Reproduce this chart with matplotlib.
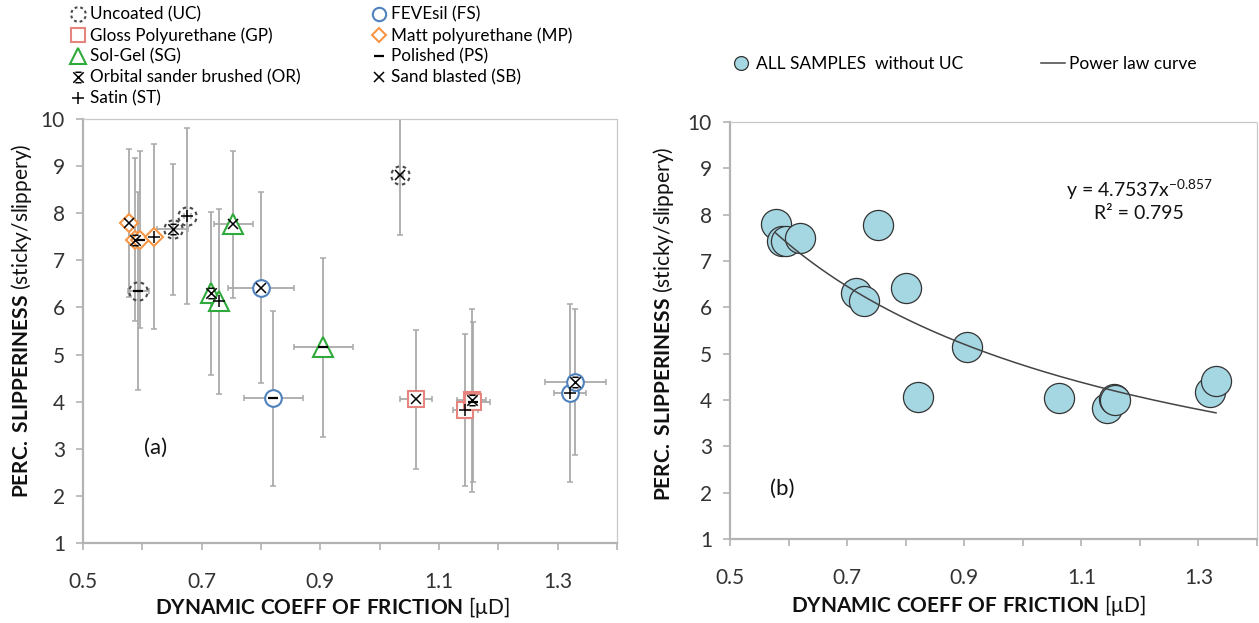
import numpy as np
import matplotlib
matplotlib.use("Agg")
import matplotlib.pyplot as plt
from matplotlib.path import Path
from matplotlib.lines import Line2D

plt.rcParams['font.family'] = ['Lato', 'DejaVu Sans']
plt.rcParams['mathtext.fontset'] = 'custom'
plt.rcParams['mathtext.rm'] = 'Lato'
plt.rcParams['mathtext.bf'] = 'Lato:bold'
plt.rcParams['mathtext.it'] = 'Lato:italic'

# ---------------- data ----------------
coating = ['UC', 'UC', 'UC', 'UC',
           'MP', 'MP', 'MP', 'MP',
           'SG', 'SG', 'SG', 'SG',
           'FS', 'FS', 'FS', 'FS',
           'GP', 'GP', 'GP', 'GP']
finish = ['PS', 'OR', 'ST', 'SB',
          'SB', 'OR', 'PS', 'ST',
          'OR', 'ST', 'SB', 'PS',
          'SB', 'PS', 'ST', 'OR',
          'SB', 'ST', 'OR', 'PS']
cof = [0.593, 0.651, 0.676, 1.035,
       0.578, 0.588, 0.596, 0.619,
       0.715, 0.729, 0.753, 0.905,
       0.800, 0.821, 1.320, 1.330,
       1.062, 1.144, 1.155, 1.158]
slip = [6.35, 7.66, 7.94, 8.82,
        7.79, 7.44, 7.44, 7.50,
        6.30, 6.13, 7.77, 5.15,
        6.42, 4.07, 4.18, 4.41,
        4.05, 3.83, 4.03, 4.00]
cof_err = [0.018, 0.026, 0.006, 0.004,
           0.004, 0.004, 0.004, 0.006,
           0.004, 0.004, 0.033, 0.050,
           0.056, 0.050, 0.027, 0.052,
           0.027, 0.021, 0.025, 0.028]
slip_err = [2.11, 1.39, 1.86, 1.28,
            1.57, 1.73, 1.88, 1.96,
            1.73, 1.97, 1.56, 1.91,
            2.02, 1.86, 1.89, 1.55,
            1.48, 1.61, 1.94, 1.70]

coating_labels = {'UC': 'Uncoated (UC)', 'FS': 'FEVEsil (FS)',
                  'GP': 'Gloss Polyurethane (GP)', 'MP': 'Matt polyurethane (MP)',
                  'SG': 'Sol-Gel (SG)'}
finish_labels = {'PS': 'Polished (PS)', 'OR': 'Orbital sander brushed (OR)',
                 'SB': 'Sand blasted (SB)', 'ST': 'Satin (ST)'}
fit_a, fit_b, fit_r2 = 4.7537, -0.857, 0.795
xticks = [0.5, 0.6, 0.7, 0.8, 0.9, 1.0, 1.1, 1.2, 1.3, 1.4]
yticks = [1, 2, 3, 4, 5, 6, 7, 8, 9, 10]

# ---------------- custom markers ----------------
M, L = Path.MOVETO, Path.LINETO
or_verts = [(-1, -1), (1, 1), (-1, 1), (1, -1), (-0.6, 1), (0.6, 1), (-0.6, -1), (0.6, -1)]
or_marker = Path(or_verts, [M, L, M, L, M, L, M, L])

dv, dc = [], []
for k in range(8):
    t0 = k * 2 * np.pi / 8 + 0.15
    ts = np.linspace(t0, t0 + 0.5 * 2 * np.pi / 8, 5)
    for i, t in enumerate(ts):
        dv.append((np.cos(t), np.sin(t)))
        dc.append(M if i == 0 else L)
dash_circle = Path(dv, dc)

outer_style = {
    'UC': dict(marker=dash_circle, ms=13, mec='#4a4a4a', mfc='none', mew=1.5),
    'FS': dict(marker='o', ms=12, mec='#4f81bd', mfc='white', mew=1.5),
    'GP': dict(marker='s', ms=12, mec='#e6857f', mfc='white', mew=1.5),
    'MP': dict(marker='D', ms=9.5, mec='#f79646', mfc='white', mew=1.5),
    'SG': dict(marker='^', ms=14, mec='#2eaa3a', mfc='white', mew=1.5),
}
inner_style = {
    'PS': dict(marker='_', ms=7, mec='black', mew=1.6),
    'OR': dict(marker=or_marker, ms=7.5, mec='black', mfc='none', mew=1.1),
    'SB': dict(marker='x', ms=7, mec='black', mew=1.1),
    'ST': dict(marker='+', ms=8, mec='black', mew=1.1),
}

W, H = 1259, 623
fig = plt.figure(figsize=(W / 100, H / 100), dpi=100)


def px(x0, y0, x1, y1):
    return [x0 / W, 1 - y1 / H, (x1 - x0) / W, (y1 - y0) / H]


axA = fig.add_axes(px(83, 119, 617, 543))
axB = fig.add_axes(px(730, 122, 1257, 539))

grey = '#b3b3b3'
for ax in (axA, axB):
    ax.set_xlim(0.5, 1.4)
    ax.set_ylim(1, 10)
    ax.set_xticks(xticks)
    ax.set_xticklabels([('%.1f' % t) if i % 2 == 0 and t < 1.35 else '' for i, t in enumerate(xticks)])
    ax.set_yticks(yticks)
    ax.set_yticklabels([str(t) for t in yticks])
    for s in ('top', 'right'):
        ax.spines[s].set_linestyle((0, (1, 1)))
        ax.spines[s].set_color('#c8c8c8')
        ax.spines[s].set_linewidth(0.9)
    for s in ('left', 'bottom'):
        ax.spines[s].set_color(grey)
        ax.spines[s].set_linewidth(1.6)
    ax.tick_params(axis='both', colors=grey, labelcolor='#333333', labelsize=15,
                   length=5, width=1.2)
    ax.tick_params(axis='x', pad=16)
    ax.tick_params(axis='y', pad=8)

# ---------------- panel (a) ----------------
for i in range(len(cof)):
    axA.errorbar(cof[i], slip[i], xerr=cof_err[i], yerr=slip_err[i], fmt='none',
                 ecolor='#aaaaaa', elinewidth=1.3, capsize=2.5, capthick=1.1, zorder=2,
                 clip_on=True)
for i in range(len(cof)):
    axA.plot(cof[i], slip[i], linestyle='none', zorder=3, **outer_style[coating[i]])
for i in range(len(cof)):
    axA.plot(cof[i], slip[i], linestyle='none', zorder=4, **inner_style[finish[i]])

axA.text(0.115, 0.225, '(a)', transform=axA.transAxes, fontsize=16, color='#111111',
         ha='left', va='center')

# legend (a)
handles, labels = [], []
order = [('c', 'UC'), ('c', 'GP'), ('c', 'SG'), ('f', 'OR'), ('f', 'ST'),
         ('c', 'FS'), ('c', 'MP'), ('f', 'PS'), ('f', 'SB')]
for kind, key in order:
    if kind == 'c':
        st = dict(outer_style[key])
        labels.append(coating_labels[key])
        st['ms'] = st['ms'] * 0.8
    else:
        st = dict(inner_style[key])
        labels.append(finish_labels[key])
    handles.append(Line2D([], [], linestyle='none', **st))
fig.legend(handles, labels, ncol=2, loc='upper left', bbox_to_anchor=(68 / W, 1 - 3 / H),
           frameon=False, fontsize=12.3, handlelength=0.8, handletextpad=0.3,
           columnspacing=4.2, labelspacing=0.28, borderpad=0.2, borderaxespad=0)

# ---------------- panel (b) ----------------
bx = [cof[i] for i in range(len(cof)) if coating[i] != 'UC']
by = [slip[i] for i in range(len(cof)) if coating[i] != 'UC']
sc = axB.scatter(bx, by, s=470, c='#a5d7e3', edgecolors='#333333', linewidths=0.9, zorder=3)
xf = np.linspace(min(bx), max(bx), 200)
ln, = axB.plot(xf, fit_a * xf ** fit_b, color='#444444', lw=1.1, zorder=4)

axB.text(0.776, 0.837, 'y = %.4fx$^{%.3f}$' % (fit_a, fit_b), transform=axB.transAxes,
         fontsize=14, ha='center', va='center', color='#111111')
axB.text(0.776, 0.78, 'R² = %.3f' % fit_r2, transform=axB.transAxes,
         fontsize=14, ha='center', va='center', color='#111111')
axB.text(0.075, 0.12, '(b)', transform=axB.transAxes, fontsize=16, color='#111111',
         ha='left', va='center')

fig.legend([Line2D([], [], linestyle='none', marker='o', ms=10, mfc='#a5d7e3', mec='#333333', mew=0.9)],
           ['ALL SAMPLES  without UC'], loc='center left',
           bbox_to_anchor=(733 / W, 1 - 64 / H), frameon=False, fontsize=12.5,
           handlelength=0.9, handletextpad=0.4, borderpad=0, borderaxespad=0)
fig.legend([Line2D([], [], color='#444444', lw=1.1)], ['Power law curve'], loc='center left',
           bbox_to_anchor=(1041 / W, 1 - 64 / H), frameon=False, fontsize=12.5,
           handlelength=1.4, handletextpad=0.2, borderpad=0, borderaxespad=0)

# axis labels
for (xc, yc) in [(332, 607), (968, 606)]:
    fig.text(xc / W, 1 - yc / H, r'$\bf{DYNAMIC\ COEFF\ OF\ FRICTION}$ [μD]',
             fontsize=15, ha='center', va='center', color='#111111')
for (xc, yc) in [(22, 321), (663, 324)]:
    fig.text(xc / W, 1 - yc / H, r'$\bf{PERC.\ SLIPPERINESS}$ (sticky/slippery)',
             fontsize=15, ha='center', va='center', rotation=90, color='#111111')

fig.savefig('out.png', dpi=100)
